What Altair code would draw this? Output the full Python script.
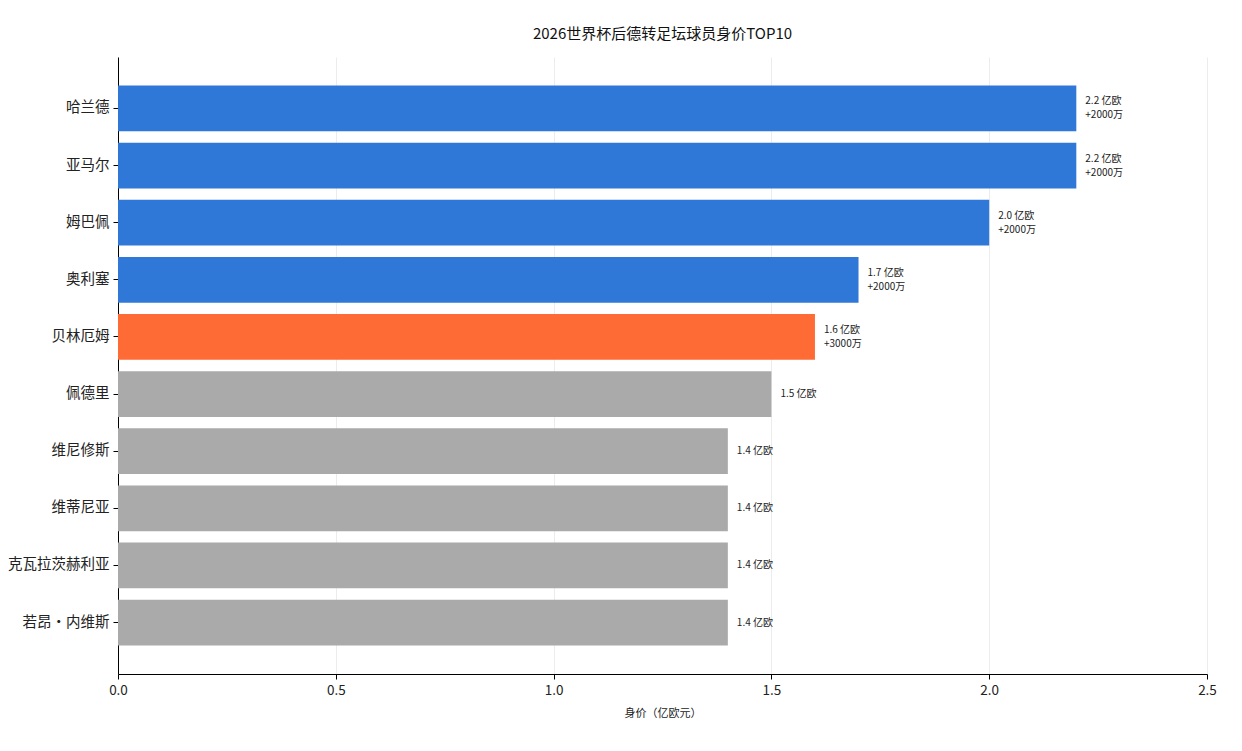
import pandas as pd
import altair as alt

# top 10 market values after the 2026 World Cup (Transfermarkt)
players = ["哈兰德", "亚马尔", "姆巴佩", "奥利塞", "贝林厄姆",
           "佩德里", "维尼修斯", "维蒂尼亚", "克瓦拉茨赫利亚", "若昂·内维斯"]
values = [2.2, 2.2, 2.0, 1.7, 1.6, 1.5, 1.4, 1.4, 1.4, 1.4]
changes = ["+2000万", "+2000万", "+2000万", "+2000万", "+3000万", "", "", "", "", ""]
groups = ["上涨", "上涨", "上涨", "上涨", "重点", "其他", "其他", "其他", "其他", "其他"]

df = pd.DataFrame({"player": players, "value": values, "change": changes, "group": groups})
df["label"] = df.apply(
    lambda r: f"{r['value']:.1f} 亿欧" + (f"\n{r['change']}" if r["change"] else ""), axis=1
)
df["two"] = df["change"] != ""

font = "Noto Sans CJK SC"

y_enc = alt.Y("player:N", sort=players, title=None,
              scale=alt.Scale(paddingInner=0.2, paddingOuter=0.5),
              axis=alt.Axis(labelFontSize=14.5, labelColor="#222", labelFont=font,
                            tickSize=5, tickColor="#000", domainColor="#000",
                            labelPadding=4, grid=False))

bars = alt.Chart(df).mark_bar().encode(
    x=alt.X("value:Q", title="身价（亿欧元）",
            scale=alt.Scale(domain=[0, 2.5], nice=False),
            axis=alt.Axis(values=[0, 0.5, 1.0, 1.5, 2.0, 2.5], format=".1f",
                          labelFontSize=13.5, labelColor="#222", labelFont=font,
                          labelFlush=False,
                          titleFontSize=11, titleFontWeight="normal", titleColor="#222",
                          titleFont=font, titlePadding=11,
                          tickSize=5, tickColor="#000", domainColor="#000",
                          grid=True, gridColor="#ececec", labelPadding=4)),
    y=y_enc,
    color=alt.Color("group:N",
                    scale=alt.Scale(domain=["上涨", "重点", "其他"],
                                    range=["#3078d8", "#ff6b35", "#aaaaaa"]),
                    legend=None),
)

# two-line labels need shifting up so the block sits centred on the bar
labels_two = alt.Chart(df).transform_filter("datum.two").mark_text(
    align="left", baseline="middle", dx=9, dy=-7, fontSize=10, font=font,
    color="#222", lineBreak="\n", lineHeight=14
).encode(
    x="value:Q",
    y=alt.Y("player:N", sort=players),
    text="label:N",
)

labels_one = alt.Chart(df).transform_filter("!datum.two").mark_text(
    align="left", baseline="middle", dx=9, fontSize=10, font=font, color="#222"
).encode(
    x="value:Q",
    y=alt.Y("player:N", sort=players),
    text="label:N",
)

chart = (bars + labels_two + labels_one).properties(
    width=1089,
    height=617,
    autosize=alt.AutoSizeParams(type="none"),
    padding={"left": 110, "top": 49, "right": 27, "bottom": 69},
    background="white",
    title=alt.TitleParams("2026世界杯后德转足坛球员身价TOP10", fontSize=15,
                          fontWeight="normal", font=font, color="#111",
                          anchor="middle", offset=15),
).configure_view(stroke=None)

chart.save("out.html", embed_options={"renderer": "svg", "actions": False})
